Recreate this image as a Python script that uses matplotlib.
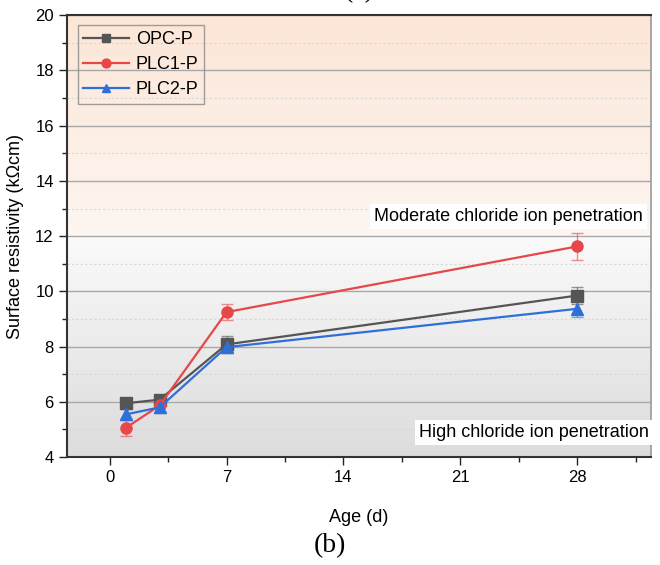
import numpy as np
import matplotlib.pyplot as plt
from matplotlib.colors import LinearSegmentedColormap

plt.rcParams['font.family'] = ['Liberation Sans', 'DejaVu Sans']

# data
age = [1, 3, 7, 28]
series = ['OPC-P', 'PLC1-P', 'PLC2-P']
opc = [5.95, 6.08, 8.08, 9.85]
opc_err = [0.14, 0.16, 0.30, 0.30]
plc1 = [5.07, 5.87, 9.25, 11.63]
plc1_err = [0.30, 0.22, 0.28, 0.50]
plc2 = [5.55, 5.80, 7.98, 9.37]
plc2_err = [0.20, 0.20, 0.14, 0.30]
colors = {'OPC-P': '#555555', 'PLC1-P': '#e8474a', 'PLC2-P': '#2e6fd8'}
markers = {'OPC-P': 's', 'PLC1-P': 'o', 'PLC2-P': '^'}

fig = plt.figure(figsize=(6.6, 5.65), dpi=100)
ax = fig.add_axes([0.1015, 0.191, 0.8845, 0.782])

xlim = (-2.55, 32.4)
ax.set_xlim(*xlim)
ax.set_ylim(4, 20)

# background bands (gradients)
peach = LinearSegmentedColormap.from_list('peach', ['#fdf6f1', '#fce6d7'])
grey = LinearSegmentedColormap.from_list('grey', ['#dcdcdc', '#fafafa'])
grad = np.linspace(0, 1, 256).reshape(-1, 1)
ax.imshow(grad, aspect='auto', cmap=peach, origin='lower',
          extent=(xlim[0], xlim[1], 12, 20), zorder=0)
ax.imshow(grad, aspect='auto', cmap=grey, origin='lower',
          extent=(xlim[0], xlim[1], 4, 12), zorder=0)

# grid
ax.set_yticks(np.arange(4, 21, 2))
ax.set_yticks(np.arange(5, 20, 2), minor=True)
ax.set_xticks([0, 7, 14, 21, 28])
ax.set_xticks([3.5, 10.5, 17.5, 24.5, 31.5], minor=True)
ax.grid(True, axis='y', which='major', color='#a8a8a8', lw=1.0, zorder=1)
ax.grid(True, axis='y', which='minor', color='#d8d8d8', lw=0.8, ls=(0, (2, 2)), zorder=1)

data = {'OPC-P': (opc, opc_err), 'PLC1-P': (plc1, plc1_err), 'PLC2-P': (plc2, plc2_err)}
for name in series:
    vals, err = data[name]
    c = colors[name]
    ax.errorbar(age, vals, yerr=err, fmt='none', ecolor=c, alpha=0.6,
                elinewidth=1.0, capsize=4, capthick=1.0, zorder=3)
    ax.plot(age, vals, color=c, marker=markers[name], markersize=8,
            lw=1.6, label=name, zorder=4)

# region labels
ax.text(31.9, 12.7, 'Moderate chloride ion penetration', ha='right', va='center',
        fontsize=13, bbox=dict(facecolor='white', edgecolor='none', pad=3), zorder=5)
ax.text(32.3, 4.9, 'High chloride ion penetration', ha='right', va='center',
        fontsize=13, bbox=dict(facecolor='white', edgecolor='none', pad=3), zorder=5)

ax.set_xlabel('Age (d)', fontsize=13, labelpad=17)
ax.set_ylabel('Surface resistivity (k\u03a9cm)', fontsize=13, labelpad=8)
ax.tick_params(axis='both', which='major', direction='out', length=6, width=1,
               labelsize=12, color='#222222')
ax.tick_params(axis='both', which='minor', direction='out', length=3.5, width=1,
               color='#222222')

for s in ['left', 'bottom', 'top']:
    ax.spines[s].set_color('#333333')
    ax.spines[s].set_linewidth(1.5)
ax.spines['right'].set_color('#999999')
ax.spines['right'].set_linewidth(1.2)

leg = ax.legend(loc='upper left', fontsize=13, frameon=True, fancybox=False,
                borderpad=0.3, labelspacing=0.45, handlelength=2.5, handletextpad=0.4,
                markerscale=0.8, borderaxespad=0, bbox_to_anchor=(0.019, 0.977))
leg.get_frame().set_edgecolor('#888888')
leg.get_frame().set_facecolor('none')
leg.get_frame().set_linewidth(1.0)

fig.text(0.5, 0.035, '(b)', ha='center', va='center', fontsize=20,
         family=['Liberation Serif', 'DejaVu Serif'])
fig.text(0.544, 1.016, '(a)', ha='center', va='center', fontsize=20,
         family=['Liberation Serif', 'DejaVu Serif'])

fig.savefig('out.png', dpi=100)
